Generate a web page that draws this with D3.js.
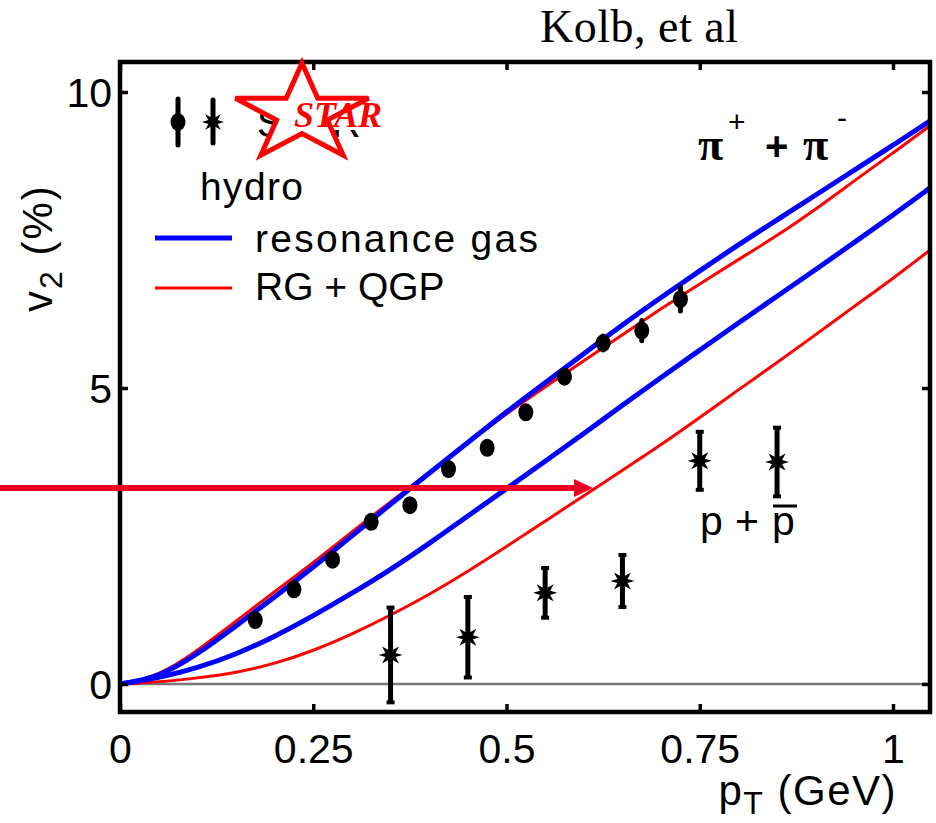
<!DOCTYPE html>
<html>
<head>
<meta charset="utf-8">
<script src="https://cdn.jsdelivr.net/npm/d3@7"></script>
<style>
  body { margin: 0; background: #fff; }
  svg { display: block; font-family: "Liberation Sans", Arial, sans-serif; }
</style>
</head>
<body>
<svg id="chart"></svg>
<script>
// hydro curves, sampled every 0.05 GeV
const curvePt = [0, 0.05, 0.1, 0.15, 0.2, 0.25, 0.3, 0.35, 0.4, 0.45, 0.5, 0.55, 0.6, 0.65, 0.7, 0.75, 0.8, 0.85, 0.9, 0.95, 1.0, 1.05];
const pionRG = [0, 0.11, 0.5, 0.98, 1.47, 1.97, 2.5, 3.04, 3.56, 4.08, 4.6, 5.09, 5.58, 6.07, 6.53, 6.98, 7.42, 7.84, 8.26, 8.68, 9.1, 9.53];
const pionQGP = [0, 0.13, 0.56, 1.06, 1.56, 2.05, 2.57, 3.08, 3.57, 4.07, 4.57, 5.02, 5.46, 5.9, 6.34, 6.76, 7.17, 7.57, 8.02, 8.5, 8.97, 9.45];
const protonRG = [0, 0.1, 0.27, 0.5, 0.8, 1.15, 1.53, 1.93, 2.37, 2.84, 3.3, 3.76, 4.23, 4.71, 5.18, 5.64, 6.1, 6.55, 7.0, 7.46, 7.92, 8.4];
const protonQGP = [0, 0.03, 0.1, 0.19, 0.34, 0.56, 0.84, 1.16, 1.51, 1.9, 2.32, 2.75, 3.18, 3.61, 4.04, 4.5, 4.97, 5.43, 5.9, 6.38, 6.85, 7.35];

// STAR data
const pionPt = [0.175, 0.225, 0.275, 0.325, 0.375, 0.425, 0.475, 0.525, 0.575, 0.625, 0.675, 0.725];
const pionV2 = [1.08, 1.6, 2.1, 2.74, 3.02, 3.63, 3.99, 4.59, 5.19, 5.76, 5.97, 6.5];
const pionErr = [0.08, 0.08, 0.08, 0.08, 0.08, 0.08, 0.08, 0.1, 0.1, 0.12, 0.17, 0.2];
const protonPt = [0.35, 0.45, 0.55, 0.65, 0.75, 0.85];
const protonV2 = [0.49, 0.79, 1.54, 1.74, 3.77, 3.75];
const protonErr = [0.8, 0.68, 0.42, 0.44, 0.49, 0.58];

const xTicks = [0, 0.25, 0.5, 0.75, 1];
const xTickLabels = ["0", "0.25", "0.5", "0.75", "1"];
const yTicks = [0, 5, 10];

const W = 936, H = 823;
const pl = 120, pr = 930, pt = 62, pb = 712;
const serif = "'Liberation Serif', 'Times New Roman', serif";

const svg = d3.select("#chart").attr("width", W).attr("height", H);

const x = d3.scaleLinear().domain([0, 1]).range([120, 893]);
const y = d3.scaleLinear().domain([0, 10]).range([684, 92]);

// zero line
svg.append("line")
    .attr("x1", pl).attr("x2", pr)
    .attr("y1", y(0)).attr("y2", y(0))
    .attr("stroke", "#7a7a7a").attr("stroke-width", 2.5);

// curves
const line = d3.line()
    .x(d => x(d[0]))
    .y(d => y(d[1]))
    .curve(d3.curveBasis);

const curves = [
    { v: pionQGP, color: "#ff0000", w: 3 },
    { v: protonQGP, color: "#ff0000", w: 3 },
    { v: pionRG, color: "#0000ff", w: 5 },
    { v: protonRG, color: "#0000ff", w: 5 }
];

svg.append("clipPath").attr("id", "plotclip")
    .append("rect").attr("x", pl).attr("y", pt)
    .attr("width", pr - pl).attr("height", pb - pt);

svg.append("g").attr("clip-path", "url(#plotclip)")
    .selectAll("path")
    .data(curves)
    .enter().append("path")
    .attr("d", c => line(curvePt.map((p, i) => [p, c.v[i]])))
    .attr("fill", "none")
    .attr("stroke", c => c.color)
    .attr("stroke-width", c => c.w);

// burst marker for protons
function burst(r1, r2) {
    const pts = [];
    for (let i = 0; i < 16; i++) {
        const a = i * Math.PI / 8;
        const r = i % 2 === 0 ? r1 : r2;
        pts.push([Math.sin(a) * r, -Math.cos(a) * r]);
    }
    return "M" + pts.map(p => p.join(",")).join("L") + "Z";
}

function errorBar(g, cx, y0, y1, caps) {
    g.append("line").attr("x1", cx).attr("x2", cx).attr("y1", y0).attr("y2", y1)
        .attr("stroke", "#000").attr("stroke-width", 5)
        .attr("stroke-linecap", caps ? "butt" : "round");
    if (!caps) return;
    [y0, y1].forEach(yy => g.append("line")
        .attr("x1", cx - 4).attr("x2", cx + 4).attr("y1", yy).attr("y2", yy)
        .attr("stroke", "#000").attr("stroke-width", 4));
}

const marks = svg.append("g");
pionPt.forEach((p, i) => {
    errorBar(marks, x(p), y(pionV2[i] + pionErr[i]), y(pionV2[i] - pionErr[i]), false);
    marks.append("ellipse").attr("cx", x(p)).attr("cy", y(pionV2[i]))
        .attr("rx", 7.5).attr("ry", 9).attr("fill", "#000");
});
protonPt.forEach((p, i) => {
    errorBar(marks, x(p), y(protonV2[i] + protonErr[i]), y(protonV2[i] - protonErr[i]), true);
    marks.append("path").attr("d", burst(12, 5.5))
        .attr("transform", `translate(${x(p)},${y(protonV2[i])})`)
        .attr("fill", "#000");
});

// frame
svg.append("rect")
    .attr("x", pl).attr("y", pt)
    .attr("width", pr - pl).attr("height", pb - pt)
    .attr("fill", "none").attr("stroke", "#000").attr("stroke-width", 4.5);

// axes (inward ticks)
const xAxis = svg.append("g").attr("transform", `translate(0,${pb})`)
    .call(d3.axisBottom(x).tickValues(xTicks).tickFormat((d, i) => xTickLabels[i])
        .tickSize(-8).tickPadding(22));
const xTop = svg.append("g").attr("transform", `translate(0,${pt})`)
    .call(d3.axisTop(x).tickValues(xTicks).tickFormat("").tickSize(-8));
const yAxis = svg.append("g").attr("transform", `translate(${pl},0)`)
    .call(d3.axisLeft(y).tickValues(yTicks).tickSize(-8).tickPadding(8));
const yRight = svg.append("g").attr("transform", `translate(${pr},0)`)
    .call(d3.axisRight(y).tickValues(yTicks).tickFormat("").tickSize(-8));

[xAxis, xTop, yAxis, yRight].forEach(a => {
    a.select(".domain").remove();
    a.selectAll(".tick line").attr("stroke", "#000").attr("stroke-width", 3.5);
    a.selectAll("text").style("font-size", "41px").attr("fill", "#000")
        .style("font-family", "'Liberation Sans', Arial, sans-serif");
});
yAxis.selectAll("text").attr("dy", "0.36em");

// axis titles
const yt = svg.append("text")
    .attr("transform", "translate(52,312) rotate(-90)")
    .style("font-size", "42px").style("letter-spacing", "2px").attr("fill", "#000");
yt.append("tspan").text("v");
yt.append("tspan").attr("dy", 10).style("font-size", "32px").text("2");
yt.append("tspan").attr("dy", -10).text(" (%)");

const xt = svg.append("text")
    .attr("x", 897).attr("y", 805).attr("text-anchor", "end")
    .style("font-size", "42px").style("letter-spacing", "1.5px").attr("fill", "#000");
xt.append("tspan").text("p");
xt.append("tspan").attr("dy", 9).style("font-size", "32px").text("T");
xt.append("tspan").attr("dy", -9).text(" (GeV)");

// top label
svg.append("text").attr("x", 540).attr("y", 42)
    .style("font-family", serif).attr("textLength", 198)
    .style("font-size", "46px").attr("fill", "#000").text("Kolb, et al");

// particle labels
const piLab = svg.append("g").attr("fill", "#000");
piLab.append("text").attr("x", 698).attr("y", 160).style("font-family", serif)
    .style("font-size", "46px").style("font-weight", "bold").text("\u03c0");
piLab.append("text").attr("x", 728).attr("y", 132).style("font-size", "30px").text("+");
piLab.append("text").attr("x", 765).attr("y", 160).style("font-size", "40px").style("font-weight", "bold").text("+");
piLab.append("text").attr("x", 803).attr("y", 160).style("font-family", serif)
    .style("font-size", "46px").style("font-weight", "bold").text("\u03c0");
piLab.append("text").attr("x", 837).attr("y", 128).style("font-size", "30px").text("-");

const pLab = svg.append("g").attr("fill", "#000").style("font-size", "41px");
pLab.append("text").attr("x", 700).attr("y", 535).text("p");
pLab.append("text").attr("x", 735).attr("y", 535).text("+");
pLab.append("text").attr("x", 772).attr("y", 535).text("p");
pLab.append("line").attr("x1", 773).attr("x2", 797).attr("y1", 506).attr("y2", 506)
    .attr("stroke", "#000").attr("stroke-width", 3);

// legend
const leg = svg.append("g");
errorBar(leg, 178, 99, 145, false);
leg.append("ellipse").attr("cx", 178).attr("cy", 122).attr("rx", 7.5).attr("ry", 9).attr("fill", "#000");
errorBar(leg, 213, 100, 143, false);
leg.append("path").attr("d", burst(11, 5)).attr("transform", "translate(213,122)").attr("fill", "#000");
leg.append("text").attr("x", 257).attr("y", 137).style("font-size", "40px").attr("fill", "#000").text("STAR");

// STAR logo over the legend label
const sx = 302, sy = 114, rx = 70, ry = 51;
const starPts = [];
for (let i = 0; i < 10; i++) {
    const a = i * Math.PI / 5;
    const r = i % 2 === 0 ? 1 : 0.382;
    starPts.push([sx + Math.sin(a) * r * rx, sy - Math.cos(a) * r * ry]);
}
const starPath = "M" + starPts.map(p => p.join(",")).join("L") + "Z";
leg.append("path").attr("d", starPath).attr("fill", "#fff");
leg.append("rect").attr("x", 288).attr("y", 88).attr("width", 106).attr("height", 42).attr("fill", "#fff");
leg.append("text").attr("x", 294).attr("y", 127)
    .style("font-family", serif)
    .style("font-style", "italic").style("font-weight", "bold")
    .style("font-size", "36px").attr("fill", "#ff0000").text("STAR");
leg.append("path").attr("d", starPath).attr("fill", "none")
    .attr("stroke", "#ff0000").attr("stroke-width", 5).attr("stroke-linejoin", "miter");

const legFont = "39px";
leg.append("text").attr("x", 200).attr("y", 200).style("font-size", legFont)
    .attr("textLength", 103).attr("fill", "#000").text("hydro");
leg.append("line").attr("x1", 155).attr("x2", 232).attr("y1", 238).attr("y2", 238)
    .attr("stroke", "#0000ff").attr("stroke-width", 5);
leg.append("text").attr("x", 255).attr("y", 252).style("font-size", legFont)
    .attr("textLength", 283).attr("fill", "#000").text("resonance gas");
leg.append("line").attr("x1", 155).attr("x2", 232).attr("y1", 288).attr("y2", 288)
    .attr("stroke", "#ff0000").attr("stroke-width", 3);
leg.append("text").attr("x", 255).attr("y", 300).style("font-size", legFont)
    .attr("fill", "#000").text("RG + QGP");

// annotation arrow
svg.append("line").attr("x1", 0).attr("x2", 577).attr("y1", 488).attr("y2", 488)
    .attr("stroke", "#ee0022").attr("stroke-width", 6);
svg.append("path").attr("d", "M574,479L593,488L574,497Z").attr("fill", "#ee0022");
</script>
</body>
</html>
